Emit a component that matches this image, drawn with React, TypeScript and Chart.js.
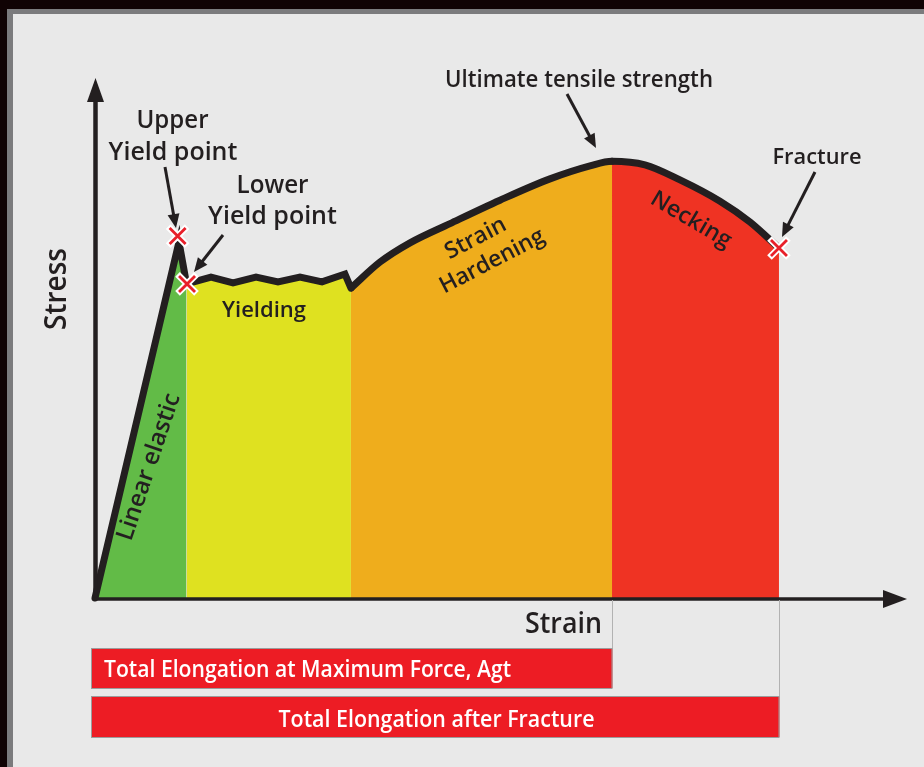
import React, { useEffect, useRef } from 'react';
import { Chart, registerables } from 'chart.js';

Chart.register(...registerables);

// ---- data (strain in arbitrary %, stress in arbitrary units) ----
const yieldStrain = [0, 10.37, 11.3, 14.32, 17.04, 19.88, 22.59, 25.31, 28.02, 30.86, 31.6];
const yieldStress = [0, 68.46, 60.4, 61.7, 60.6, 61.7, 60.8, 61.7, 60.8, 62.3, 59.6];
const hardenStrain = [31.6, 35.19, 38.89, 43.83, 50.0, 56.17, 61.11, 63.83, 67.9, 72.22, 77.16, 80.86, 84.44];
const hardenStress = [59.6, 64.6, 68.3, 72.0, 76.5, 80.6, 83.1, 84.0, 83.3, 80.4, 76.3, 72.3, 67.3];

const lowerYieldStrain = 11.3;
const utsStrain = 63.83;
const fractureStrain = 84.44;

const markStrain = [10.2, 11.36, 84.44];
const markStress = [69.6, 60.4, 67.3];

const regionColors = ['#62bb47', '#dfe120', '#efad1c', '#ef3323'];
const barLabels = ['Total Elongation at Maximum Force, Agt', 'Total Elongation after Fracture'];

const TXT = '#231f20';
const PANEL = '#e9e9e9';
const FONT = '"Open Sans", "Noto Sans", "DejaVu Sans", sans-serif';

function drawText(ctx: CanvasRenderingContext2D, s: string, x: number, y: number, size: number, o: any = {}) {
  ctx.save();
  ctx.translate(x, y);
  if (o.rot) ctx.rotate((o.rot * Math.PI) / 180);
  ctx.font = `600 ${size}px ${FONT}`;
  ctx.fillStyle = o.color || TXT;
  ctx.textAlign = o.align || 'center';
  ctx.textBaseline = o.baseline || 'alphabetic';
  const dx = o.dx || 0;
  const dy = o.dy || 0;
  if (o.maxWidth) ctx.fillText(s, dx, dy, o.maxWidth);
  else ctx.fillText(s, dx, dy);
  ctx.restore();
}

function arrow(ctx: CanvasRenderingContext2D, x1: number, y1: number, x2: number, y2: number, w = 3, head = 14, hw = 6) {
  const a = Math.atan2(y2 - y1, x2 - x1);
  const bx = x2 - head * Math.cos(a);
  const by = y2 - head * Math.sin(a);
  ctx.save();
  ctx.strokeStyle = TXT;
  ctx.fillStyle = TXT;
  ctx.lineWidth = w;
  ctx.beginPath();
  ctx.moveTo(x1, y1);
  ctx.lineTo(bx + Math.cos(a), by + Math.sin(a));
  ctx.stroke();
  ctx.beginPath();
  ctx.moveTo(x2, y2);
  ctx.lineTo(bx + hw * Math.sin(a), by - hw * Math.cos(a));
  ctx.lineTo(bx - hw * Math.sin(a), by + hw * Math.cos(a));
  ctx.closePath();
  ctx.fill();
  ctx.restore();
}

function cross(ctx: CanvasRenderingContext2D, x: number, y: number) {
  const passes: [number, number, string][] = [[6.5, 9.5, '#ffffff'], [2.8, 8, '#e8202a']];
  ctx.save();
  ctx.lineCap = 'butt';
  for (const [lw, r, col] of passes) {
    ctx.strokeStyle = col;
    ctx.lineWidth = lw;
    ctx.beginPath();
    ctx.moveTo(x - r, y - r);
    ctx.lineTo(x + r, y + r);
    ctx.moveTo(x - r, y + r);
    ctx.lineTo(x + r, y - r);
    ctx.stroke();
  }
  ctx.restore();
}

const infographic = {
  id: 'infographic',
  beforeDraw(chart: any) {
    const ctx = chart.ctx as CanvasRenderingContext2D;
    ctx.save();
    ctx.fillStyle = PANEL;
    ctx.fillRect(0, 0, 2000, 2000);
    ctx.fillStyle = '#100304';
    ctx.fillRect(0, 0, 2000, 9);
    ctx.fillRect(0, 0, 7, 2000);
    ctx.fillStyle = '#7b7b7d';
    ctx.fillRect(7, 9, 2000, 5);
    ctx.fillRect(7, 9, 6, 2000);
    ctx.restore();
  },
  afterDatasetsDraw(chart: any) {
    const ctx = chart.ctx as CanvasRenderingContext2D;
    const xs = chart.scales.x;
    const ys = chart.scales.y;
    const x0 = xs.getPixelForValue(0);
    const y0 = ys.getPixelForValue(0);
    const xEnd = chart.chartArea.right;
    const yTop = chart.chartArea.top;

    // axes with arrows
    ctx.save();
    ctx.strokeStyle = TXT;
    ctx.fillStyle = TXT;
    ctx.lineWidth = 4.5;
    ctx.beginPath();
    ctx.moveTo(x0 + 0.5, y0 + 1);
    ctx.lineTo(x0 + 0.5, yTop + 22);
    ctx.stroke();
    ctx.beginPath();
    ctx.moveTo(x0 + 0.5, yTop);
    ctx.lineTo(x0 + 9, yTop + 24);
    ctx.lineTo(x0 - 8, yTop + 24);
    ctx.closePath();
    ctx.fill();
    ctx.lineWidth = 3.5;
    ctx.beginPath();
    ctx.moveTo(x0 - 2, y0 + 1);
    ctx.lineTo(xEnd - 22, y0 + 1);
    ctx.stroke();
    ctx.beginPath();
    ctx.moveTo(xEnd + 2, y0 + 1);
    ctx.lineTo(xEnd - 22, y0 - 8);
    ctx.lineTo(xEnd - 22, y0 + 10);
    ctx.closePath();
    ctx.fill();
    ctx.restore();

    // markers
    for (let i = 0; i < markStrain.length; i++) {
      cross(ctx, xs.getPixelForValue(markStrain[i]), ys.getPixelForValue(markStress[i]));
    }

    // elongation bars
    const pU = Math.round(xs.getPixelForValue(utsStrain)) + 0.5;
    const pF = Math.round(xs.getPixelForValue(fractureStrain)) + 0.5;
    ctx.save();
    ctx.strokeStyle = '#b2b2b2';
    ctx.lineWidth = 1;
    ctx.beginPath();
    ctx.moveTo(pU, y0 + 2);
    ctx.lineTo(pU, 649);
    ctx.moveTo(pF, y0 + 2);
    ctx.lineTo(pF, 697);
    ctx.stroke();
    const bx = x0 - 3;
    ctx.fillStyle = '#ed1c24';
    ctx.fillRect(bx, 649, pU - bx, 39);
    ctx.fillRect(bx, 697, pF - bx, 40);
    ctx.strokeStyle = '#9c9c9c';
    ctx.strokeRect(bx - 0.5, 648.5, pU - bx, 40);
    ctx.strokeRect(bx - 0.5, 696.5, pF - bx, 41);
    ctx.restore();
    drawText(ctx, barLabels[0], 104, 677, 23, { align: 'left', color: '#ffffff', maxWidth: 407 });
    drawText(ctx, barLabels[1], 436.5, 727, 23, { color: '#ffffff', maxWidth: 316 });

    // annotations
    drawText(ctx, 'Ultimate tensile strength', 579, 87, 23, { maxWidth: 268 });
    arrow(ctx, 567, 94, 596, 148);
    drawText(ctx, 'Upper', 172.5, 128, 25, { maxWidth: 72 });
    drawText(ctx, 'Yield point', 173, 160, 25, { maxWidth: 130 });
    arrow(ctx, 165, 167, 176, 228);
    drawText(ctx, 'Lower', 272.5, 193, 25, { maxWidth: 72 });
    drawText(ctx, 'Yield point', 272.5, 224, 25, { maxWidth: 129 });
    arrow(ctx, 223, 235, 194, 272);
    drawText(ctx, 'Fracture', 817, 164, 22, { maxWidth: 89 });
    arrow(ctx, 815, 172, 782, 237);

    // region labels
    drawText(ctx, 'Yielding', 264, 317, 22, { maxWidth: 86 });
    drawText(ctx, 'Linear elastic', 149, 467, 24, { rot: -71.4, baseline: 'middle', maxWidth: 167 });
    drawText(ctx, 'Strain', 484, 250, 23, { rot: -27.5, baseline: 'middle', dx: -2, dy: -14, maxWidth: 68 });
    drawText(ctx, 'Hardening', 484, 250, 23, { rot: -27.5, baseline: 'middle', dx: 2, dy: 14, maxWidth: 115 });
    drawText(ctx, 'Necking', 691, 220, 23, { rot: 30.6, baseline: 'middle', maxWidth: 91 });

    // axis titles
    drawText(ctx, 'Stress', 57, 289, 30, { rot: -90, baseline: 'middle', maxWidth: 82 });
    drawText(ctx, 'Strain', 602, 633, 28, { align: 'right', maxWidth: 77 });
  },
};

export default function App() {
  const ref = useRef<HTMLCanvasElement | null>(null);

  useEffect(() => {
    document.body.style.margin = '0';
    document.body.style.overflow = 'hidden';
    document.body.style.background = PANEL;
    document.documentElement.style.overflow = 'hidden';
    document.documentElement.style.background = PANEL;
    if (!ref.current) return;
    const yieldPts = yieldStrain.map((x, i) => ({ x, y: yieldStress[i] }));
    const hardenPts = hardenStrain.map((x, i) => ({ x, y: hardenStress[i] }));
    const chart = new Chart(ref.current, {
      type: 'line',
      data: {
        datasets: [
          {
            data: yieldPts,
            borderColor: TXT,
            borderWidth: 7,
            borderJoinStyle: 'miter',
            borderCapStyle: 'round',
            tension: 0,
            fill: 'origin',
            backgroundColor: regionColors[1],
            pointRadius: 0,
            clip: false,
            segment: {
              backgroundColor: (c: any) => (c.p0.parsed.x < lowerYieldStrain ? regionColors[0] : regionColors[1]),
            },
          } as any,
          {
            data: hardenPts,
            borderColor: TXT,
            borderWidth: 7,
            borderCapStyle: 'round',
            cubicInterpolationMode: 'monotone',
            fill: 'origin',
            backgroundColor: regionColors[2],
            pointRadius: 0,
            clip: false,
            segment: {
              backgroundColor: (c: any) => (c.p0.parsed.x < utsStrain - 0.01 ? regionColors[2] : regionColors[3]),
            },
          } as any,
        ],
      },
      options: {
        animation: false,
        responsive: false,
        maintainAspectRatio: false,
        events: [],
        layout: { padding: { left: 95, right: 19, top: 78, bottom: 169 } },
        scales: {
          x: { type: 'linear', min: 0, max: 100, display: false },
          y: { type: 'linear', min: 0, max: 100, display: false },
        },
        plugins: {
          legend: { display: false },
          tooltip: { enabled: false },
          title: { display: false },
        },
      },
      plugins: [infographic],
    });
    return () => chart.destroy();
  }, []);

  return (
    <div style={{ position: 'fixed', left: 0, top: 0, width: 924, height: 767, overflow: 'hidden', background: PANEL }}>
      <canvas ref={ref} width={924} height={767} style={{ display: 'block', width: 924, height: 767 }} />
    </div>
  );
}
